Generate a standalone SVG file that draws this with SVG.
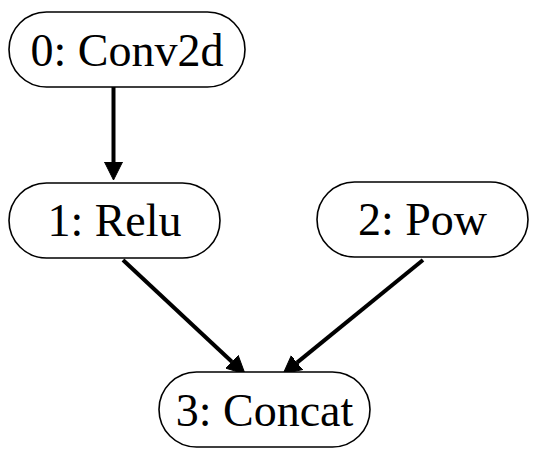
<svg xmlns="http://www.w3.org/2000/svg" width="534" height="458" viewBox="0 0 534 458">
<style>
.node rect{fill:#fff;stroke:#000;stroke-width:1.6}
.node text{font-family:"Liberation Serif","Times New Roman",serif;font-size:46px;text-anchor:middle;fill:#000}
.edge line{stroke:#000;stroke-width:4}
</style>
<defs>
<marker id="ah" markerUnits="userSpaceOnUse" viewBox="0 0 20 20" markerWidth="20" markerHeight="20" refX="0" refY="10" orient="auto">
<path d="M0,1 L18,10 L0,19 Z" fill="#000" stroke="#000" stroke-width="1"/>
</marker>
</defs>
<rect width="534" height="458" fill="#fff"/>
<g id="edges" class="edge">
<line x1="113.5" y1="87" x2="113.5" y2="162" marker-end="url(#ah)"/>
<line x1="123" y1="260" x2="231.9" y2="361.7" marker-end="url(#ah)"/>
<line x1="423" y1="260" x2="297" y2="362.6" marker-end="url(#ah)"/>
</g>
<g id="node0" class="node">
<rect x="9" y="12" width="236" height="75" rx="37.5" ry="37.5"/>
<text x="127" y="66">0: Conv2d</text>
</g>
<g id="node1" class="node">
<rect x="9" y="183" width="211" height="75" rx="37.5" ry="37.5"/>
<text x="114.5" y="236">1: Relu</text>
</g>
<g id="node2" class="node">
<rect x="317" y="182" width="211" height="75" rx="37.5" ry="37.5"/>
<text x="422.5" y="235">2: Pow</text>
</g>
<g id="node3" class="node">
<rect x="159" y="372" width="211" height="75" rx="37.5" ry="37.5"/>
<text x="264.5" y="426">3: Concat</text>
</g>
</svg>
